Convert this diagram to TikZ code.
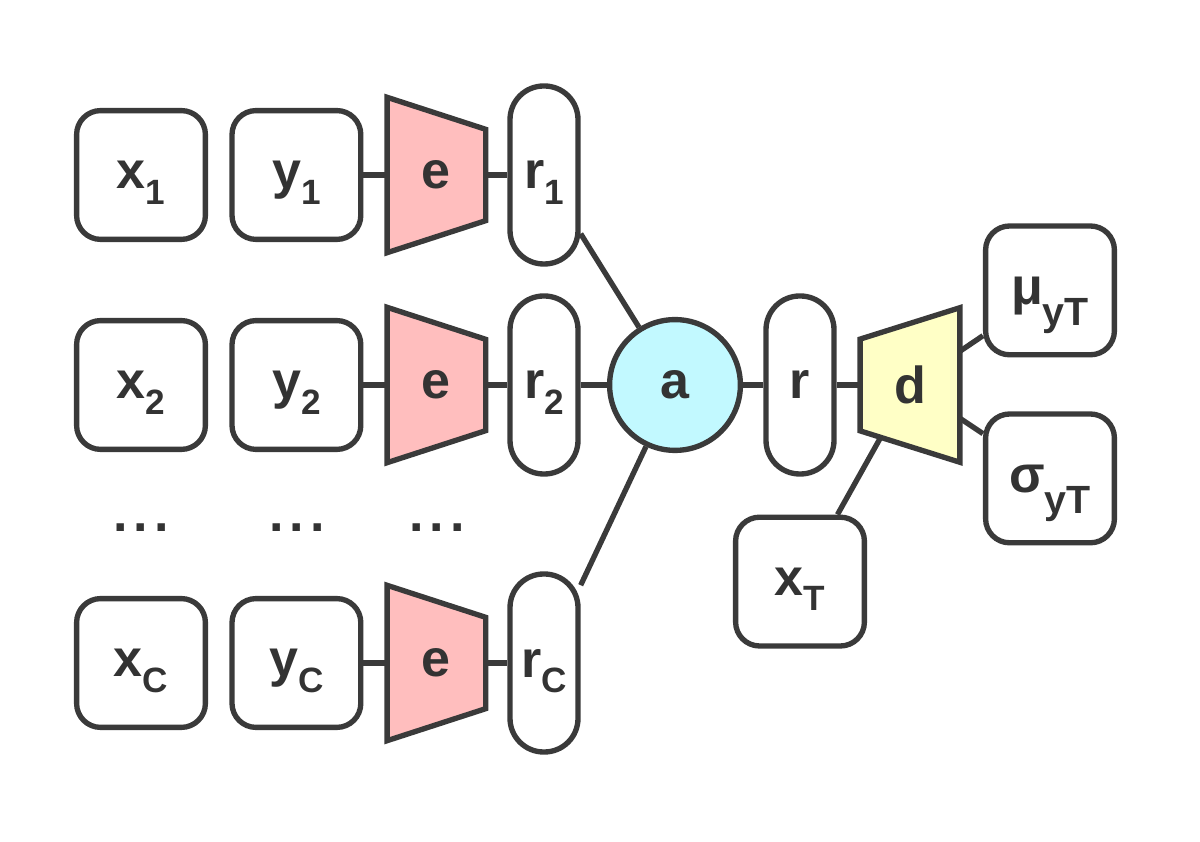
\documentclass[tikz,border=0pt]{standalone}
\usepackage{fontspec}
\setmainfont{Liberation Sans}
\usepackage{tikz}
\usetikzlibrary{positioning,calc,backgrounds}
\usepackage{xcolor}

\definecolor{linegray}{HTML}{3A3A3A}
\definecolor{textgray}{HTML}{333333}
\definecolor{encpink}{HTML}{FFBEBE}
\definecolor{aggcyan}{HTML}{C2F9FF}
\definecolor{decyellow}{HTML}{FFFFC6}

% main letter with a lowered subscript (only the letter body counts for centring)
\newcommand{\vsub}[4][25]{\raisebox{0pt}[\height][0pt]{#2}\raisebox{-#4em}[0pt][0pt]{\fontsize{#1}{#1}\selectfont #3}}

\begin{document}
\begin{tikzpicture}[
    every node/.style={
        inner sep=0pt,
        text=textgray,
        font=\fontsize{37}{40}\selectfont\bfseries
    },
    box/.style={
        draw=linegray,
        line width=3.8pt,
        fill=white,
        rounded corners=0.6cm,
        minimum width=3.22cm,
        minimum height=3.22cm
    },
    pill/.style={
        draw=linegray,
        line width=3.8pt,
        fill=white,
        rounded corners=0.84cm,
        minimum width=1.7cm,
        minimum height=4.45cm
    },
    agg/.style={
        circle,
        draw=linegray,
        line width=3.8pt,
        fill=aggcyan,
        minimum size=3.27cm
    },
    trap/.style={minimum width=2.45cm, minimum height=3.87cm},
    link/.style={draw=linegray, line width=3.8pt},
    trapline/.style={draw=linegray, line width=3.8pt, line join=miter}
]
\useasboundingbox (0,0) rectangle (30,21.05);

% ---------------- Context rows ----------------
\node[box]  (x1) at (3.525,16.675) {\vsub{x}{1}{0.3}};
\node[box]  (y1) at (7.41,16.675)  {\vsub{y}{1}{0.3}};
\node[trap] (e1) at (10.91,16.675) {e};
\node[pill] (r1) at (13.6,16.675)  {\vsub{r}{1}{0.3}};

\node[box]  (x2) at (3.525,11.425) {\vsub{x}{2}{0.3}};
\node[box]  (y2) at (7.41,11.425)  {\vsub{y}{2}{0.3}};
\node[trap] (e2) at (10.91,11.425) {e};
\node[pill] (r2) at (13.6,11.425)  {\vsub{r}{2}{0.3}};

\node (dots1) at (3.525,7.85)  {.\hspace{0.12em}.\hspace{0.12em}.};
\node (dots2) at (7.425,7.85)  {.\hspace{0.12em}.\hspace{0.12em}.};
\node (dots3) at (10.925,7.85) {.\hspace{0.12em}.\hspace{0.12em}.};

\node[box]  (xC) at (3.525,4.475) {\vsub{x}{C}{0.3}};
\node[box]  (yC) at (7.41,4.475)  {\vsub{y}{C}{0.3}};
\node[trap] (eC) at (10.91,4.475) {e};
\node[pill] (rC) at (13.6,4.475)  {\vsub{r}{C}{0.3}};

% ---------------- Aggregate and decoder ----------------
\node[agg]  (a) at (16.875,11.425) {a};
\node[pill] (r) at (20.0,11.425)   {r};
\node[trap, minimum width=2.48cm, minimum height=3.85cm] (d) at (22.75,11.425) {d};

\node[box] (mu)    at (26.25,13.79) {\vsub[28]{μ}{yT}{0.42}};
\node[box] (sigma) at (26.25,9.09)  {\vsub[28]{σ}{yT}{0.42}};
\node[box] (xT)    at (20.0,6.51)   {\vsub{x}{T}{0.3}};

% ---------------- Connectors and trapezoids ----------------
\begin{scope}[on background layer]
\draw[link] (y1) -- (e1);
\draw[link] (e1) -- (r1);
\draw[link] (y2) -- (e2);
\draw[link] (e2) -- (r2);
\draw[link] (yC) -- (eC);
\draw[link] (eC) -- (rC);

\draw[link] (r1) -- (a);
\draw[link] (r2) -- (a);
\draw[link] (rC) -- (a);
\draw[link] (a) -- (r);
\draw[link] (r) -- (d);
\draw[link] (d) -- (mu);
\draw[link] (d) -- (sigma);
\draw[link] (xT) -- (d.center);

\foreach \enc in {e1,e2,eC}
    \filldraw[trapline, fill=encpink]
        (\enc.north west) -- ($(\enc.north east)+(0,-0.8)$)
        -- ($(\enc.south east)+(0,0.8)$) -- (\enc.south west) -- cycle;

\filldraw[trapline, fill=decyellow]
    ($(d.north west)+(0,-0.785)$) -- (d.north east)
    -- (d.south east) -- ($(d.south west)+(0,0.785)$) -- cycle;
\end{scope}

\end{tikzpicture}
\end{document}
